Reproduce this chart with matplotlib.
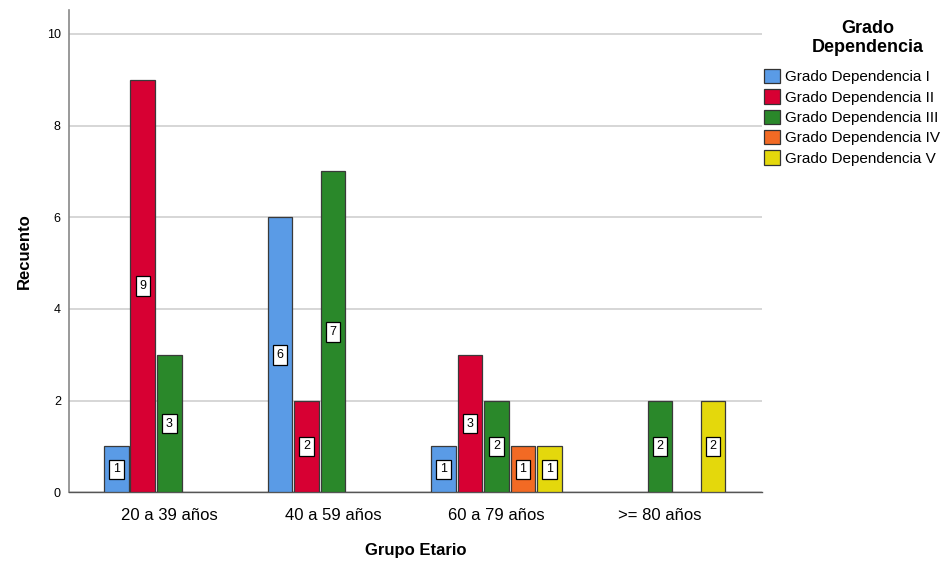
import matplotlib
matplotlib.use("Agg")
import matplotlib.pyplot as plt
import numpy as np
from matplotlib.patches import Patch

plt.rcParams['font.family'] = ['Liberation Sans', 'DejaVu Sans']

groups = ["20 a 39 años", "40 a 59 años", "60 a 79 años", ">= 80 años"]
series = ["Grado Dependencia I", "Grado Dependencia II", "Grado Dependencia III",
          "Grado Dependencia IV", "Grado Dependencia V"]
grado_i = [1, 6, 1, 0]
grado_ii = [9, 2, 3, 0]
grado_iii = [3, 7, 2, 2]
grado_iv = [0, 0, 1, 0]
grado_v = [0, 0, 1, 2]
colors = ["#5a9be6", "#d70033", "#2a882a", "#f26a24", "#e4d80c"]

values = [grado_i, grado_ii, grado_iii, grado_iv, grado_v]

fig = plt.figure(figsize=(9.48, 5.62), dpi=100)
ax = fig.add_axes([0.073, 0.124, 0.731, 0.858])

slot = 0.162
x = np.arange(len(groups))
for i, (vals, col) in enumerate(zip(values, colors)):
    offs = (i - 2) * slot
    for xi, v in zip(x, vals):
        if v <= 0:
            continue
        ax.bar(xi + offs, v, width=slot * 0.93, color=col, edgecolor="#3a3a3a",
               linewidth=0.9, zorder=3)
        ax.text(xi + offs, v / 2, str(v), ha="center", va="center", fontsize=9,
                zorder=4,
                bbox=dict(boxstyle="square,pad=0.3", facecolor="white",
                          edgecolor="black", linewidth=0.9))

ax.set_xlim(-0.612, 3.624)
ax.set_ylim(0, 10.52)
ax.set_yticks([0, 2, 4, 6, 8, 10])
ax.set_xticks(x)
ax.set_xticklabels(groups, fontsize=12)
ax.tick_params(axis="y", labelsize=9, length=0, pad=6)
ax.tick_params(axis="x", length=0, pad=11)
ax.grid(axis="y", color="#d0d0d0", linewidth=1.2, zorder=0)
for s in ["top", "right"]:
    ax.spines[s].set_visible(False)
ax.spines["left"].set_color("#888888")
ax.spines["left"].set_linewidth(1.2)
ax.spines["bottom"].set_color("#555555")
ax.spines["bottom"].set_linewidth(1.0)

ax.set_xlabel("Grupo Etario", fontsize=12, fontweight="bold", labelpad=15)
ax.set_ylabel("Recuento", fontsize=12, fontweight="bold", labelpad=11)

# Legend title, centred above the entries
fig.text(868 / 948, 1 - 38 / 562, "Grado\nDependencia", ha="center", va="center",
         fontsize=13, fontweight="bold", linespacing=1.12)

handles = [Patch(facecolor=c, edgecolor="#333333", linewidth=0.9) for c in colors]
fig.legend(handles, series, loc="upper left",
           bbox_to_anchor=(764 / 948, 1 - 69 / 562),
           frameon=False, fontsize=11, borderpad=0,
           handlelength=1.05, handleheight=1.05, handletextpad=0.3,
           labelspacing=0.33, borderaxespad=0)

fig.savefig("out.png", dpi=100)
